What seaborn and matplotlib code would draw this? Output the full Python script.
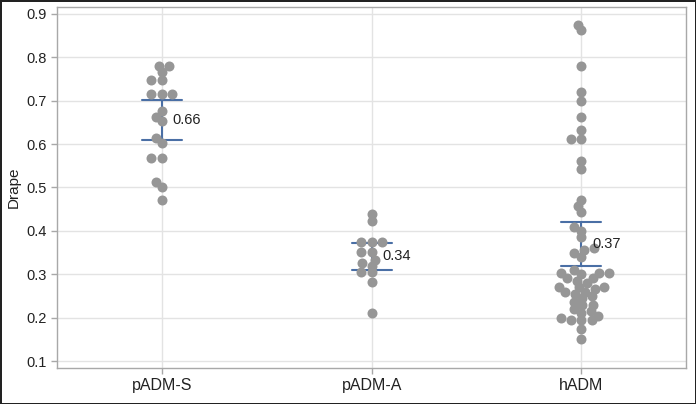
import numpy as np
import pandas as pd
import matplotlib
matplotlib.use("Agg")
import matplotlib.pyplot as plt
import seaborn as sns

categories = ["pADM-S", "pADM-A", "hADM"]

padm_s = [0.78, 0.78, 0.767, 0.748, 0.748, 0.715, 0.715, 0.715, 0.675, 0.663,
          0.652, 0.614, 0.603, 0.568, 0.568, 0.513, 0.502, 0.471]
padm_a = [0.44, 0.423, 0.375, 0.375, 0.375, 0.352, 0.352, 0.333, 0.325, 0.32,
          0.306, 0.306, 0.283, 0.21]
hadm = [0.875, 0.862, 0.78, 0.72, 0.70, 0.662, 0.633, 0.611, 0.611, 0.562,
        0.542, 0.471, 0.457, 0.444,
        0.41, 0.40, 0.385, 0.36, 0.355, 0.35, 0.34,
        0.31, 0.302, 0.302, 0.302, 0.30, 0.291, 0.291, 0.285, 0.28, 0.271,
        0.271, 0.271, 0.265, 0.26, 0.26, 0.255, 0.25, 0.245, 0.237, 0.229,
        0.229, 0.22, 0.215, 0.21, 0.205, 0.199, 0.194, 0.194, 0.194, 0.175, 0.152]

yticks = [0.1, 0.2, 0.3, 0.4, 0.5, 0.6, 0.7, 0.8, 0.9]

df = pd.DataFrame({
    "group": ["pADM-S"] * len(padm_s) + ["pADM-A"] * len(padm_a) + ["hADM"] * len(hadm),
    "value": padm_s + padm_a + hadm,
})

sns.set_theme(style="whitegrid")
plt.rcParams["font.family"] = ["Liberation Sans", "DejaVu Sans"]

fig = plt.figure(figsize=(6.96, 4.04), dpi=100)
fig.patch.set_facecolor("white")
fig.patch.set_edgecolor("#222222")
fig.patch.set_linewidth(2.0)
ax = fig.add_axes([0.082, 0.089, 0.904, 0.894])

dot_color = "#969696"
bar_color = "#4a6fa5"
ylim = (0.084, 0.916)

sns.swarmplot(data=df, x="group", y="value", order=categories, color=dot_color,
              size=7.2, ax=ax, zorder=3)
swarm_colls = list(ax.collections)

# compute the swarm layout with the value axis stretched, so dots may overlap
# vertically (like the reference's dot plot), then freeze that layout
ax.set_xlim(-0.5, 2.5)
mid = 0.5 * (ylim[0] + ylim[1])
half = 0.5 * (ylim[1] - ylim[0]) / 1.7
ax.set_ylim(mid - half, mid + half)
fig.canvas.draw()
for c in swarm_colls:
    offs = np.array(c.get_offsets()).copy()
    if "draw" in c.__dict__:
        del c.__dict__["draw"]
    c.set_offsets(offs)

sns.pointplot(data=df, x="group", y="value", order=categories,
              errorbar=("se", 1.96), capsize=0.19, linestyle="none",
              marker="", markersize=0, color=bar_color,
              err_kws={"linewidth": 1.5}, ax=ax)

for i, cat in enumerate(categories):
    m = df.loc[df["group"] == cat, "value"].mean()
    ax.text(i + 0.05, m, f"{m:.2f}", va="center", ha="left", fontsize=10.5,
            color="#222222", zorder=5)

ax.set_xlim(-0.5, 2.5)
ax.set_ylim(*ylim)
ax.set_yticks(yticks)
ax.set_yticklabels([f"{t:.1f}" for t in yticks])
ax.set_xlabel("")
ax.set_ylabel("Drape", fontsize=11, color="#222222")

ax.set_facecolor("white")
ax.grid(True, axis="both", color="#e3e3e3", linewidth=1.0)
for s in ax.spines.values():
    s.set_visible(True)
    s.set_color("#a8a8a8")
    s.set_linewidth(1.0)
ax.tick_params(axis="both", which="both", length=4, width=1, color="#a8a8a8",
               labelcolor="#222222", bottom=True, left=True)
ax.tick_params(axis="x", labelsize=11.5)
ax.tick_params(axis="y", labelsize=10.5)
ax.set_axisbelow(True)

fig.savefig("out.png", dpi=100)
